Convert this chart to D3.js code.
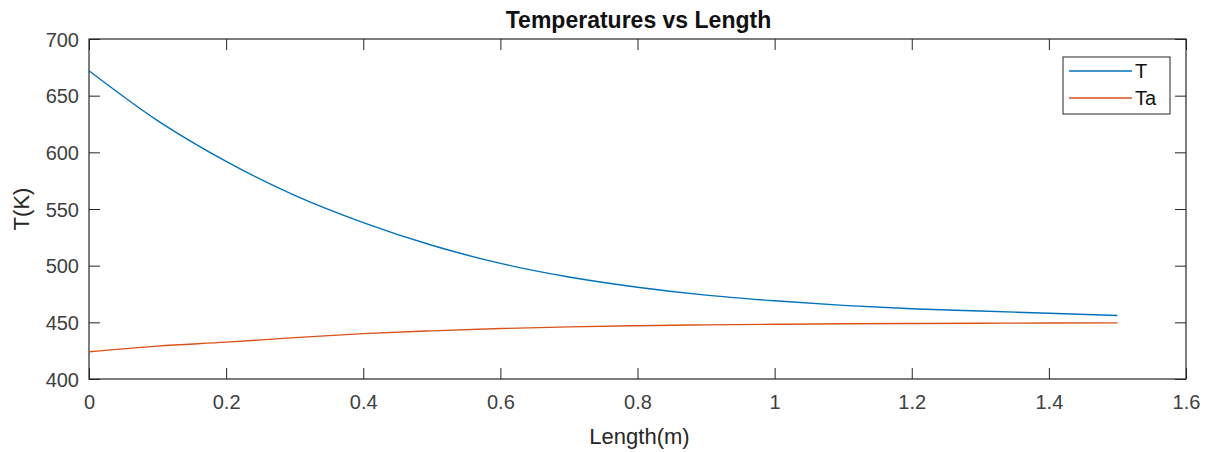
<!DOCTYPE html>
<html>
<head>
<meta charset="utf-8">
<script src="https://cdn.jsdelivr.net/npm/d3@7"></script>
<style>
  html, body { margin: 0; padding: 0; background: #fff; }
  svg { display: block; font-family: "Liberation Sans", Arial, sans-serif; }
</style>
</head>
<body>
<svg id="chart" width="1212" height="452"></svg>
<script>
// ---- data ----
const lengthM = [0, 0.1, 0.2, 0.3, 0.4, 0.5, 0.6, 0.7, 0.8, 0.9, 1.0, 1.1, 1.2, 1.3, 1.4, 1.5];
const seriesT  = [672, 628, 592, 562, 538, 518, 502, 490, 481, 474, 469, 465, 462, 460, 458, 456];
const seriesTa = [424, 429, 432.5, 436.5, 440, 442.5, 444.5, 446, 447, 447.8, 448.3, 448.7, 449, 449.2, 449.4, 449.5];
const xTicks = [0, 0.2, 0.4, 0.6, 0.8, 1, 1.2, 1.4, 1.6];
const yTicks = [400, 450, 500, 550, 600, 650, 700];
const seriesNames = ["T", "Ta"];
const seriesColors = ["#0072BD", "#D95319"];

const svg = d3.select("#chart");
const L = 89, R = 1186, Tp = 39, B = 379;
const axisColor = "#262626";
const tickLen = 11;

const x = d3.scaleLinear().domain([0, 1.6]).range([L, R]);
const y = d3.scaleLinear().domain([400, 700]).range([B, Tp]);

// axes (ticks inward, box on)
const fmtX = d => (d === 0 || d === 1) ? String(d) : d3.format(".1f")(d);
const gx = svg.append("g").attr("transform", `translate(0,${B})`)
  .call(d3.axisBottom(x).tickValues(xTicks).tickFormat(fmtX).tickSizeInner(-tickLen).tickSizeOuter(0).tickPadding(16));
const gxt = svg.append("g").attr("transform", `translate(0,${Tp})`)
  .call(d3.axisTop(x).tickValues(xTicks).tickFormat("").tickSizeInner(-tickLen).tickSizeOuter(0));
const gy = svg.append("g").attr("transform", `translate(${L},0)`)
  .call(d3.axisLeft(y).tickValues(yTicks).tickSizeInner(-tickLen).tickSizeOuter(0).tickPadding(10));
const gyr = svg.append("g").attr("transform", `translate(${R},0)`)
  .call(d3.axisRight(y).tickValues(yTicks).tickFormat("").tickSizeInner(-tickLen).tickSizeOuter(0));

[gx, gxt, gy, gyr].forEach(g => {
  g.select(".domain").remove();
  g.selectAll(".tick line").attr("stroke", axisColor).attr("stroke-width", 1);
  g.selectAll(".tick text").attr("fill", "#404040").attr("font-size", 20)
    .attr("font-family", "'Liberation Sans', Arial, sans-serif");
});
gx.selectAll(".tick text").attr("dy", "0.68em");
gy.selectAll(".tick text").attr("dy", "0.36em");

// box
svg.append("rect").attr("x", L).attr("y", Tp).attr("width", R - L).attr("height", B - Tp)
  .attr("fill", "none").attr("stroke", axisColor).attr("stroke-width", 1.2);

// lines
const line = d3.line().x(d => x(d[0])).y(d => y(d[1])).curve(d3.curveMonotoneX);
[seriesT, seriesTa].forEach((s, i) => {
  svg.append("path")
    .datum(lengthM.map((v, j) => [v, s[j]]))
    .attr("d", line).attr("fill", "none")
    .attr("stroke", seriesColors[i]).attr("stroke-width", 1.4);
});

// title and labels
svg.append("text").attr("x", (L + R) / 2 + 1).attr("y", 28).attr("text-anchor", "middle")
  .attr("font-size", 23).attr("font-weight", "bold").attr("fill", "#111").text("Temperatures vs Length");
svg.append("text").attr("x", (L + R) / 2 + 2).attr("y", 444).attr("text-anchor", "middle")
  .attr("font-size", 22).attr("fill", "#262626").text("Length(m)");
svg.append("text").attr("transform", `translate(29,${(Tp + B) / 2}) rotate(-90)`).attr("text-anchor", "middle")
  .attr("font-size", 22).attr("fill", "#262626").text("T(K)");

// legend
const lg = svg.append("g");
lg.append("rect").attr("x", 1063).attr("y", 57).attr("width", 107).attr("height", 57)
  .attr("fill", "#fff").attr("stroke", axisColor).attr("stroke-width", 1);
seriesNames.forEach((n, i) => {
  const ly = 71 + i * 27;
  lg.append("line").attr("x1", 1069).attr("x2", 1132).attr("y1", ly).attr("y2", ly)
    .attr("stroke", seriesColors[i]).attr("stroke-width", 1.4);
  lg.append("text").attr("x", 1135).attr("y", ly).attr("dy", "0.36em")
    .attr("font-size", 20).attr("fill", "#111").text(n);
});
</script>
</body>
</html>
